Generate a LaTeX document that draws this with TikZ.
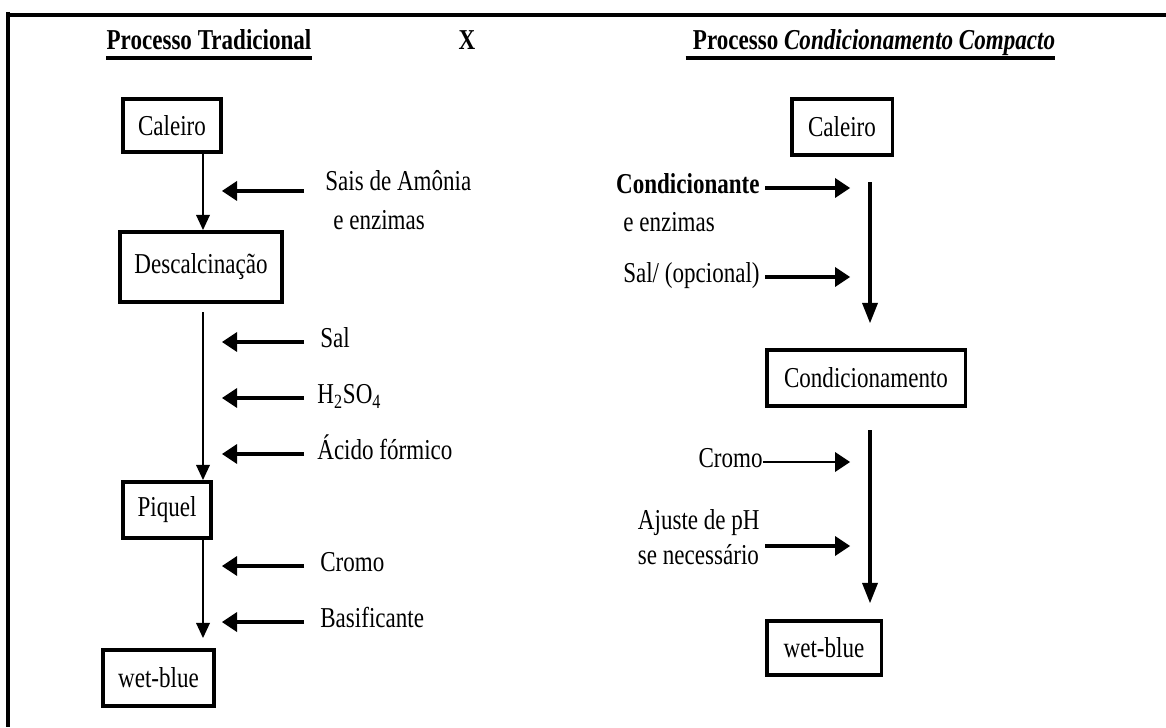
\documentclass[tikz,border=0pt]{standalone}
\usepackage{fontspec}
\setmainfont{Liberation Serif}[FakeStretch=0.80]
\usetikzlibrary{arrows.meta,calc}
\tikzstyle{every node}=[font=\fontsize{16.4}{19.5}\selectfont]
\tikzstyle{caixa}=[draw=black,line width=2pt,inner sep=0pt]
\tikzstyle{rotulo}=[inner sep=0pt,text height=0.68em,text depth=0pt]
\tikzstyle{titulo}=[inner sep=0pt,font=\fontsize{16.4}{19.5}\selectfont\bfseries]
\tikzstyle{fino}=[line width=0.8pt,-{Triangle[length=0.3cm,width=0.28cm,line width=0pt]}]
\tikzstyle{grosso}=[line width=2.2pt,-{Triangle[length=0.4cm,width=0.32cm,line width=0pt]}]
\tikzstyle{entrada}=[line width=2.8pt,-{Triangle[length=0.3cm,width=0.4cm,line width=0pt]}]
\tikzstyle{entradafina}=[line width=1.2pt,-{Triangle[length=0.3cm,width=0.4cm,line width=0pt]}]

\begin{document}
\begin{tikzpicture}
\useasboundingbox (0,0) rectangle (23.32,14.54);
% moldura
\draw[line width=2.8pt] (0.16,14.24) -- (23.32,14.24);
\draw[line width=2.3pt] (0.16,14.30) -- (0.16,0);
% titulos
\node[titulo,anchor=base] (tit1) at (4.18,13.54) {Processo Tradicional};
\node[titulo,anchor=base] (xis) at (9.34,13.54) {X};
\node[titulo,anchor=base] (tit2) at (17.48,13.54) {Processo \itshape Condicionamento Compacto};
\draw[line width=2.5pt] ([yshift=-4.6pt]tit1.base west) -- ([yshift=-4.6pt]tit1.base east);
\draw[line width=2.5pt] ([xshift=-0.14cm,yshift=-4.6pt]tit2.base west) -- ([yshift=-4.6pt]tit2.base east);
% eixos
\coordinate (eixoL) at (4.06,0);
\coordinate (tipL) at (4.44,0);
\coordinate (tailL) at (6.08,0);
\coordinate (eixoR) at (17.40,0);
\coordinate (tipR) at (17.00,0);
\coordinate (tailR) at (15.30,0);
% processo tradicional
\node[caixa,minimum width=1.97cm,minimum height=1.07cm] (cal1) at (3.44,12.03) {Caleiro};
\node[caixa,minimum width=3.25cm,minimum height=1.41cm] (desc) at (4.02,9.20) {Descalcinação};
\node[caixa,minimum width=1.77cm,minimum height=1.13cm] (pq) at (3.34,4.34) {Piquel};
\node[caixa,minimum width=2.23cm,minimum height=1.13cm] (wb1) at (3.17,0.98) {wet-blue};
\draw[fino] (cal1.south -| eixoL) -- (desc.north -| eixoL);
\draw[fino] ($(desc.south -| eixoL)+(0,-0.16)$) -- (pq.north -| eixoL);
\draw[fino] (pq.south -| eixoL) -- ($(wb1.north -| eixoL)+(0,0.2)$);
\node[rotulo,anchor=west] (sais) at (6.50,10.85) {Sais de Amônia};
\node[inner sep=0pt,anchor=base west] (enz1) at (6.66,9.94) {e enzimas};
\node[rotulo,anchor=west] (sal1) at (6.40,7.70) {Sal};
\node[rotulo,anchor=west] (acsulf) at (6.34,6.58) {H\textsubscript{2}SO\textsubscript{4}};
\node[rotulo,anchor=west] (acform) at (6.34,5.46) {Ácido fórmico};
\node[rotulo,anchor=west] (crom1) at (6.40,3.22) {Cromo};
\node[rotulo,anchor=west] (basif) at (6.40,2.10) {Basificante};
\draw[entrada] ($(sais.west -| tailL)+(0,-0.13)$) -- ($(sais.west -| tipL)+(0,-0.13)$);
\draw[entrada] (sal1.west -| tailL) -- (sal1.west -| tipL);
\draw[entrada] (acsulf.west -| tailL) -- (acsulf.west -| tipL);
\draw[entrada] (acform.west -| tailL) -- (acform.west -| tipL);
\draw[entrada] (crom1.west -| tailL) -- (crom1.west -| tipL);
\draw[entrada] (basif.west -| tailL) -- (basif.west -| tipL);
% processo condicionamento compacto
\node[caixa,minimum width=2.01cm,minimum height=1.13cm] (cal2) at (16.84,12.00) {Caleiro};
\node[caixa,minimum width=3.97cm,minimum height=1.13cm] (cond) at (17.32,6.98) {Condicionamento};
\node[caixa,minimum width=2.29cm,minimum height=1.09cm] (wb2) at (16.48,1.58) {wet-blue};
\draw[grosso] ($(cal2.south -| eixoR)+(0,-0.5)$) -- ($(cond.north -| eixoR)+(0,0.5)$);
\draw[grosso] ($(cond.south -| eixoR)+(0,-0.44)$) -- ($(wb2.north -| eixoR)+(0,0.32)$);
\node[rotulo,anchor=east] (condte) at (15.20,10.78) {\bfseries Condicionante};
\node[inner sep=0pt,anchor=base west] (enz2) at (12.46,9.90) {e enzimas};
\node[rotulo,anchor=east] (sal2) at (15.20,9.00) {Sal/ (opcional)};
\node[rotulo,anchor=east] (crom2) at (15.26,5.30) {Cromo};
\node[inner sep=0pt,anchor=east,align=left,font=\fontsize{16.4}{19.8}\selectfont] (ajuste) at (15.20,3.80) {Ajuste de pH\\se necessário};
\draw[entrada] (condte.east -| tailR) -- (condte.east -| tipR);
\draw[entrada] (sal2.east -| tailR) -- (sal2.east -| tipR);
\draw[entradafina] (crom2.east) -- (crom2.east -| tipR);
\draw[entrada] ($(ajuste.east -| tailR)+(0,-0.18)$) -- ($(ajuste.east -| tipR)+(0,-0.18)$);
\end{tikzpicture}
\end{document}
